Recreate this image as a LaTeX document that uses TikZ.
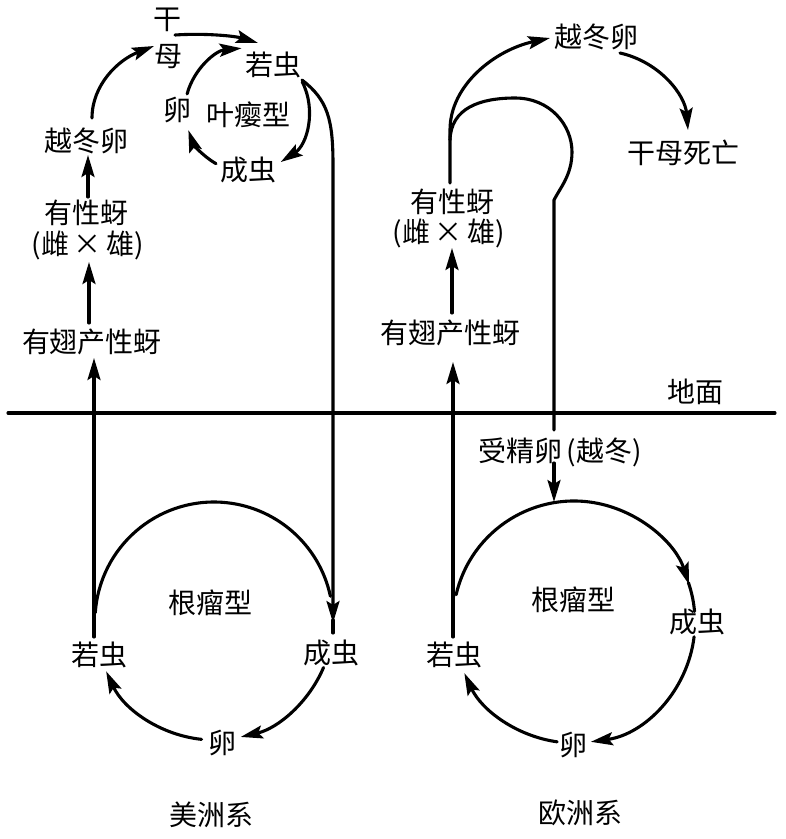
\documentclass[tikz,border=0pt]{standalone}
\usepackage{fontspec}
\newfontfamily\cjk{Noto Sans CJK SC}
\usetikzlibrary{arrows.meta}
\tikzset{
  lbl/.style={inner sep=0pt, font=\cjk\fontsize{28}{30}\selectfont},
  ln/.style={line width=3.1pt, line cap=round},
  arr/.style={ln, -{Stealth[length=22pt,width=13pt,inset=4pt]}}
}
\begin{document}
\begin{tikzpicture}[x=1pt,y=1pt]
\useasboundingbox (0,0) rectangle (786,-839);
% ---------- left system (American) ----------
\node[lbl] (gan)  at (167,-20)  {干};
\node[lbl] (mu)   at (168,-57)  {母};
\node[lbl] (rc1)  at (273,-65)  {若虫};
\node[lbl] (ln1)  at (177,-110) {卵};
\node[lbl] (yy)   at (248,-115) {叶瘿型};
\node[lbl] (cc1)  at (248,-170) {成虫};
\node[lbl] (yd1)  at (87,-141)  {越冬卵};
\node[lbl] (yx1)  at (87,-213)  {有性蚜};
\node[lbl] (cx1)  at (88,-245)  {(雌\,×\,雄)};
\node[lbl] (yc1)  at (92,-342)  {有翅产性蚜};
\node[lbl] (gl1)  at (210,-603) {根瘤型};
\node[lbl] (rc2)  at (99,-655)  {若虫};
\node[lbl] (cc2)  at (331,-653) {成虫};
\node[lbl] (ln2)  at (222,-743) {卵};
\node[lbl] (mz)   at (211,-815) {美洲系};
% ---------- right system (European) ----------
\node[lbl] (yd2)  at (596,-37)  {越冬卵};
\node[lbl] (gmsw) at (683,-153) {干母死亡};
\node[lbl] (yx2)  at (452,-202) {有性蚜};
\node[lbl] (cx2)  at (449,-233) {(雌\,×\,雄)};
\node[lbl] (yc2)  at (450,-333) {有翅产性蚜};
\node[lbl] (dm)   at (695,-392) {地面};
\node[lbl] (sj)   at (560,-452) {受精卵\,(越冬)};
\node[lbl] (gl2)  at (573,-600) {根瘤型};
\node[lbl] (cc3)  at (697,-622) {成虫};
\node[lbl] (rc3)  at (454,-655) {若虫};
\node[lbl] (ln3)  at (573,-745) {卵};
\node[lbl] (oz)   at (580,-813) {欧洲系};
% ---------- coordinates ----------
\coordinate (C1) at (214,-621);
\coordinate (C2) at (574,-622);
\coordinate (C3) at (247,-110);
\coordinate (g0) at (8,-413);
\coordinate (g1) at (775,-413);
% ground line
\draw[ln] (g0) -- (g1);
% ----- left top: leaf-gall cycle -----
\draw[arr] (175,-35) .. controls (205,-33) and (235,-36) .. (258,-43);
\draw[arr] (92,-118) .. controls (92,-85) and (118,-60) .. (154,-46);
\draw[arr] (88,-197) -- (88,-155);
\draw[arr] (89,-323) -- (89,-262);
\draw[arr] (C3) ++(165:62) arc[start angle=165,end angle=95,radius=62];
\draw[arr] (C3) ++(27:62) arc[start angle=27,end angle=-57,radius=62];
\draw[arr] (C3) ++(-120:62) arc[start angle=-120,end angle=-161,radius=62];
% long line from nymph down to root cycle
\draw[arr] (302,-80) .. controls (328,-100) and (333,-120) .. (333,-165) -- (333,-623);
\draw[ln] (333,-620) -- (333,-633);
% ----- left root-gall cycle -----
\draw[arr] (94,-637) -- (94,-358);
\draw[ln] (C1) ++(176:119) arc[start angle=176,end angle=12,radius=119];
\draw[arr] (C1) ++(-23:119) arc[start angle=-23,end angle=-77,radius=119];
\draw[arr] (C1) ++(-96:119) arc[start angle=-96,end angle=-155,radius=119];
% ----- right top -----
\draw[arr] (450,-183) -- (450,-130) .. controls (450,-85) and (495,-50) .. (550,-38);
\draw[ln] (450,-140) .. controls (451,-108) and (480,-98) .. (515,-98)
  .. controls (550,-98) and (572,-125) .. (572,-152)
  .. controls (572,-175) and (560,-188) .. (554,-200) -- (554,-430);
\draw[arr] (620,-53) .. controls (660,-62) and (685,-95) .. (688,-130);
\draw[arr] (452,-313) -- (452,-248);
\draw[arr] (554,-463) -- (554,-502);
% ----- right root-gall cycle -----
\draw[arr] (453,-637) -- (453,-362);
\draw[arr] (C2) ++(167:121) arc[start angle=167,end angle=18,radius=121];
\draw[ln] (C2) ++(19:121) arc[start angle=19,end angle=5,radius=121];
\draw[arr] (C2) ++(-7:121) arc[start angle=-7,end angle=-82,radius=121];
\draw[arr] (C2) ++(-98:121) arc[start angle=-98,end angle=-155,radius=121];
\end{tikzpicture}
\end{document}
